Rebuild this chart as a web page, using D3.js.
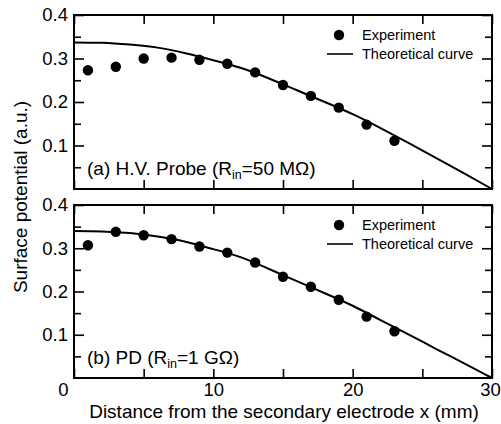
<!DOCTYPE html>
<html>
<head>
<meta charset="utf-8">
<script src="https://cdnjs.cloudflare.com/ajax/libs/d3/7.8.5/d3.min.js"></script>
<style>
  body { margin: 0; background: #fff; }
  text { font-family: "Liberation Sans", Arial, sans-serif; fill: #000; }
</style>
</head>
<body>
<div id="chart"></div>
<script>
// positions along the electrode (mm)
var xExperiment = [1, 3, 5, 7, 9, 11, 13, 15, 17, 19, 21, 23];
var expProbe = [0.273, 0.281, 0.300, 0.302, 0.297, 0.288, 0.268, 0.239, 0.214, 0.187, 0.148, 0.111];
var expPD    = [0.307, 0.338, 0.330, 0.321, 0.304, 0.290, 0.267, 0.234, 0.211, 0.181, 0.142, 0.108];

var xTheory = [0, 2, 4, 6, 8, 10, 12, 14, 16, 18, 20, 22, 24, 26, 28, 30];
var theoryProbe = [0.337, 0.336, 0.332, 0.325, 0.312, 0.296, 0.278, 0.254, 0.227, 0.200, 0.172, 0.140, 0.106, 0.071, 0.036, 0];
var theoryPD    = [0.340, 0.339, 0.335, 0.327, 0.315, 0.298, 0.279, 0.252, 0.224, 0.196, 0.167, 0.134, 0.101, 0.067, 0.034, 0];

var yMajorTicks = [0.1, 0.2, 0.3, 0.4];
var yMinorTicks = [0.05, 0.15, 0.25, 0.35];
var xMajorTicks = [0, 10, 20, 30];
var xMinorTicks = [5, 15, 25];

var width = 501, height = 424;
var left = 74, right = 492;

var svg = d3.select("#chart").append("svg")
    .attr("width", width)
    .attr("height", height);

var x = d3.scaleLinear().domain([0, 30]).range([left, right]);

function drawPanel(top, bottom, expValues, theoryValues, label, showXLabels) {
    var y = d3.scaleLinear().domain([0, 0.4]).range([bottom, top]);
    var g = svg.append("g");

    // ticks (inward) on all four sides
    g.append("g").attr("transform", "translate(" + left + ",0)")
        .call(d3.axisLeft(y).tickValues(yMajorTicks).tickSize(-10).tickPadding(6).tickFormat(d3.format(".1f")));
    g.append("g").attr("transform", "translate(" + left + ",0)")
        .call(d3.axisLeft(y).tickValues(yMinorTicks).tickSize(-7).tickFormat(""));
    g.append("g").attr("transform", "translate(" + right + ",0)")
        .call(d3.axisRight(y).tickValues(yMajorTicks).tickSize(-10).tickFormat(""));
    g.append("g").attr("transform", "translate(" + right + ",0)")
        .call(d3.axisRight(y).tickValues(yMinorTicks).tickSize(-7).tickFormat(""));
    g.append("g").attr("transform", "translate(0," + top + ")")
        .call(d3.axisTop(x).tickValues(xMajorTicks.concat(xMinorTicks)).tickSize(-9).tickFormat(""));
    var bottomAxis = g.append("g").attr("transform", "translate(0," + bottom + ")")
        .call(d3.axisBottom(x).tickValues(xMajorTicks.concat(xMinorTicks)).tickSize(-9).tickPadding(5)
            .tickFormat(function (d) { return showXLabels && d % 10 === 0 ? d : ""; }));

    g.selectAll(".domain").remove();
    g.selectAll(".tick line").attr("stroke", "#000").attr("stroke-width", 1.6);
    g.selectAll(".tick text").style("font-size", "18.5px").attr("fill", "#000");
    bottomAxis.selectAll(".tick text")
        .attr("dx", function (d) { return d === 0 ? -11 : (d === 30 ? -2 : 0); });

    // frame
    g.append("rect")
        .attr("x", left).attr("y", top)
        .attr("width", right - left).attr("height", bottom - top)
        .attr("fill", "none").attr("stroke", "#000").attr("stroke-width", 2);

    // theoretical curve
    var line = d3.line()
        .x(function (d, i) { return x(xTheory[i]); })
        .y(function (d) { return y(d); })
        .curve(d3.curveNatural);
    g.append("path")
        .datum(theoryValues)
        .attr("d", line)
        .attr("fill", "none")
        .attr("stroke", "#000")
        .attr("stroke-width", 2);

    // experiment points
    g.selectAll(".dot")
        .data(expValues)
        .enter().append("circle")
        .attr("class", "dot")
        .attr("cx", function (d, i) { return x(xExperiment[i]); })
        .attr("cy", function (d) { return y(d); })
        .attr("r", 5.2)
        .attr("fill", "#000");

    // legend
    var lg = g.append("g").attr("transform", "translate(0," + (top + 20) + ")");
    lg.append("circle").attr("cx", 339).attr("cy", 0).attr("r", 5.2).attr("fill", "#000");
    lg.append("text").attr("x", 362).attr("y", 0).attr("dy", "0.35em")
        .style("font-size", "14.5px").text("Experiment");
    lg.append("line").attr("x1", 327).attr("x2", 353).attr("y1", 19).attr("y2", 19)
        .attr("stroke", "#000").attr("stroke-width", 1.6);
    lg.append("text").attr("x", 362).attr("y", 19).attr("dy", "0.35em")
        .style("font-size", "14.5px").text("Theoretical curve");

    // panel label with subscript
    var t = g.append("text").attr("x", 87).attr("y", bottom - 14).style("font-size", "19px");
    t.append("tspan").text(label[0]);
    t.append("tspan").attr("dy", 4).style("font-size", "12.5px").text("in");
    t.append("tspan").attr("dy", -4).text(label[1]);
}

drawPanel(15, 189, expProbe, theoryProbe, ["(a) H.V. Probe (R", "=50 M\u03A9)"], false);
drawPanel(205, 378, expPD, theoryPD, ["(b) PD (R", "=1 G\u03A9)"], true);

// axis titles
svg.append("text")
    .attr("text-anchor", "middle")
    .attr("x", 284)
    .attr("y", 418)
    .style("font-size", "19px")
    .text("Distance from the secondary electrode x (mm)");

svg.append("text")
    .attr("text-anchor", "middle")
    .attr("transform", "translate(27,197) rotate(-90)")
    .style("font-size", "19px")
    .text("Surface potential (a.u.)");
</script>
</body>
</html>
